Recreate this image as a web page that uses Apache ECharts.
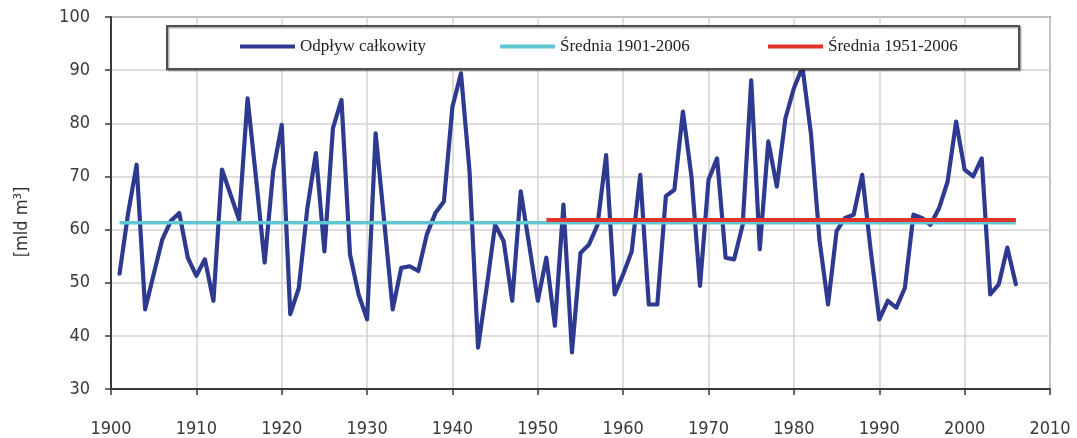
<!DOCTYPE html>
<html>
<head>
<meta charset="utf-8">
<script src="https://cdn.jsdelivr.net/npm/echarts@6/dist/echarts.min.js"></script>
<style>
html,body{margin:0;padding:0;background:#fff;}
#chart{width:1077px;height:438px;}
</style>
</head>
<body>
<div id="chart"></div>
<script>
// ---- data ----
const years = [];
for (let y = 1901; y <= 2006; y++) years.push(y);
const outflow = [
  51.7, 63.0, 72.2, 45.0, 51.6, 58.1, 61.6, 63.1, 54.7, 51.3,
  54.4, 46.6, 71.3, 66.6, 61.9, 84.7, 69.5, 53.8, 71.0, 79.7,
  44.1, 49.0, 64.0, 74.4, 55.9, 79.1, 84.4, 55.3, 47.8, 43.1,
  78.1, 61.6, 45.0, 52.8, 53.1, 52.2, 59.1, 63.1, 65.3, 83.1,
  89.4, 71.0, 37.8, 49.0, 60.9, 57.8, 46.6, 67.2, 57.0, 46.6,
  54.7, 41.9, 64.7, 36.9, 55.6, 57.2, 60.9, 74.0, 47.8, 51.6,
  55.9, 70.3, 45.9, 45.9, 66.3, 67.5, 82.2, 70.0, 49.4, 69.4,
  73.4, 54.7, 54.4, 60.9, 88.1, 56.3, 76.6, 68.1, 80.9, 86.6,
  90.6, 78.0, 58.0, 45.9, 59.7, 62.2, 62.8, 70.3, 56.0, 43.1,
  46.6, 45.3, 49.0, 62.8, 62.2, 60.9, 64.0, 69.0, 80.3, 71.3,
  70.0, 73.4, 47.8, 49.7, 56.6, 49.7
];
const seriesNames = ['Odpływ całkowity', 'Średnia 1901-2006', 'Średnia 1951-2006'];
const meanAllRange = [1901, 2006];
const meanAll = 61.3;
const meanLateRange = [1951, 2006];
const meanLate = 61.8;
const xTicks = [1900, 2010, 10];   // min, max, interval
const yTicks = [30, 100, 10];
const yAxisTitle = '[mld m³]';

// ---- chart ----
const chart = echarts.init(document.getElementById('chart'), null, {renderer: 'canvas'});
const outflowData = years.map((y, i) => [y, outflow[i]]);
const labelFont = 'DejaVu Sans Condensed';
const legendText = {fontFamily: 'Liberation Serif', fontSize: 17, color: '#222'};

function mkLegend(name, left) {
  return {
    data: [name], left: left, top: 38, padding: 0,
    icon: 'rect', itemWidth: 55, itemHeight: 4,
    textStyle: legendText, selectedMode: false, z: 10
  };
}

chart.setOption({
  animation: false,
  backgroundColor: '#fff',
  grid: {left: 111, right: 27, top: 17, bottom: 46, show: true,
         borderColor: '#8a8a8a', borderWidth: 2, backgroundColor: 'transparent'},
  legend: [mkLegend(seriesNames[0], 240), mkLegend(seriesNames[1], 500), mkLegend(seriesNames[2], 768)],
  graphic: [
    {type: 'rect', left: 166, top: 25, z: 5,
     shape: {width: 852, height: 43},
     style: {fill: '#fff', stroke: '#505050', lineWidth: 2,
             shadowBlur: 2, shadowOffsetX: 1, shadowOffsetY: 1, shadowColor: 'rgba(0,0,0,0.45)'}},
    {type: 'text', x: 22, y: 222, rotation: Math.PI / 2, z: 10,
     style: {text: yAxisTitle, fontFamily: labelFont, fontSize: 18, fill: '#333',
             align: 'center', verticalAlign: 'middle'}}
  ],
  xAxis: {
    type: 'value', min: xTicks[0], max: xTicks[1], interval: xTicks[2],
    axisLine: {show: true, lineStyle: {color: '#3a3a3a', width: 2}},
    axisTick: {show: true, length: 6, lineStyle: {color: '#3a3a3a', width: 1.5}},
    axisLabel: {margin: 31, fontFamily: labelFont, fontSize: 18, color: '#3a3a3a',
                formatter: v => String(v)},
    splitLine: {show: true, lineStyle: {color: '#d2d2d2', width: 1.5}}
  },
  yAxis: {
    type: 'value', min: yTicks[0], max: yTicks[1], interval: yTicks[2],
    axisLine: {show: true, lineStyle: {color: '#3a3a3a', width: 2}},
    axisTick: {show: true, length: 6, lineStyle: {color: '#3a3a3a', width: 1.5}},
    axisLabel: {margin: 21, fontFamily: labelFont, fontSize: 18, color: '#3a3a3a'},
    splitLine: {show: true, lineStyle: {color: '#d2d2d2', width: 1.5}}
  },
  series: [
    {name: seriesNames[0], type: 'line', data: outflowData, showSymbol: false, symbol: 'none',
     color: '#2E3A8F', lineStyle: {width: 4.2, color: '#2E3A8F', join: 'round', cap: 'round'}, z: 2},
    {name: seriesNames[1], type: 'line', showSymbol: false, symbol: 'none',
     data: [[meanAllRange[0], meanAll], [meanAllRange[1], meanAll]],
     color: '#5EC7D3', lineStyle: {width: 3.5, color: '#5EC7D3'}, z: 3},
    {name: seriesNames[2], type: 'line', showSymbol: false, symbol: 'none',
     data: [[meanLateRange[0], meanLate], [meanLateRange[1], meanLate]],
     color: '#E2322B', lineStyle: {width: 4, color: '#E2322B'}, z: 4}
  ]
});
</script>
</body>
</html>
